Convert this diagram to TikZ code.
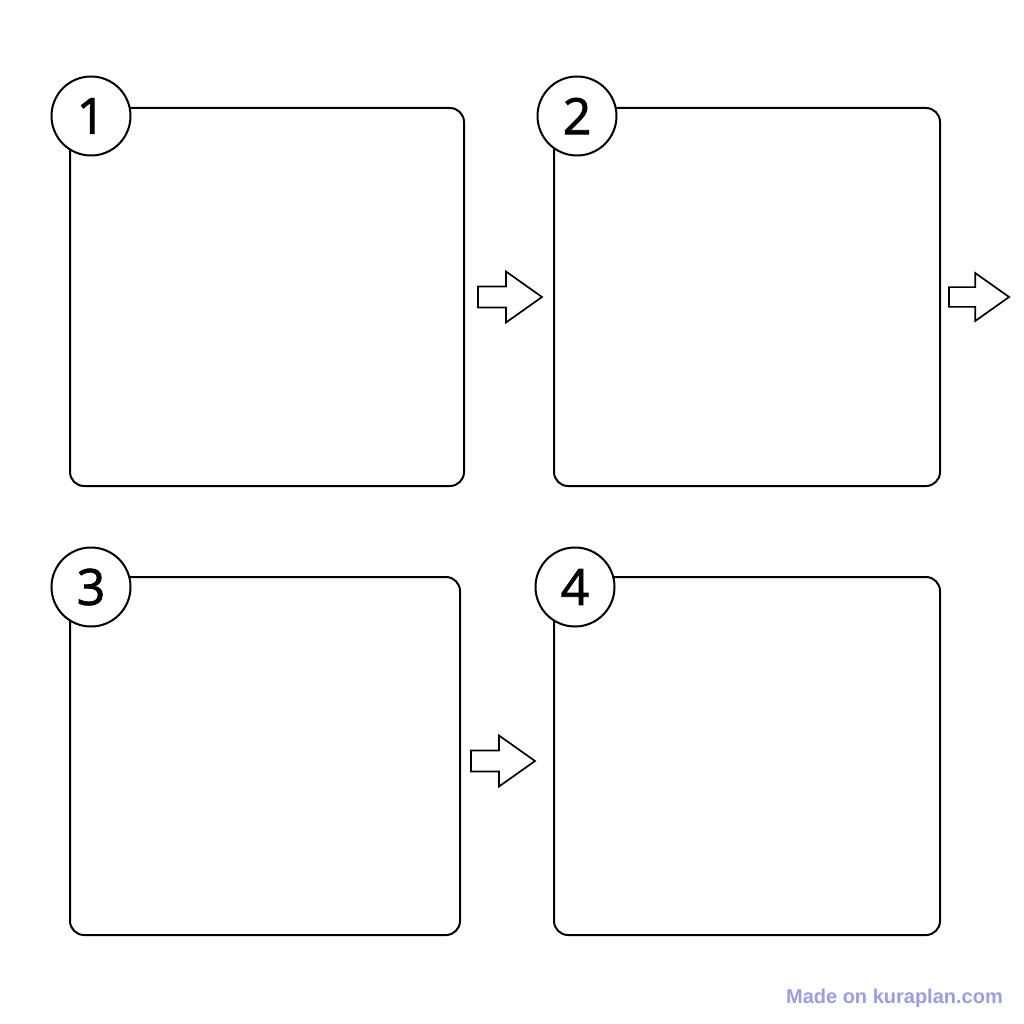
\documentclass[tikz,border=0pt]{standalone}
\usepackage{fontspec}
\setmainfont{Open Sans}
\newfontfamily\numfont{Open Sans}[FakeBold=1.6]
\newfontfamily\markfont{Liberation Sans}
\usetikzlibrary{positioning}
\definecolor{markblue}{RGB}{155,155,240}

\begin{document}
\begin{tikzpicture}[
			x=1pt, y=-1pt,
			panel/.style={rectangle, draw, line width=2pt, rounded corners=14pt, inner sep=0pt},
			num/.style={circle, draw, fill=white, line width=2pt, minimum size=79pt, inner sep=0pt, font=\numfont\fontsize{50}{50}\selectfont},
			steparrow/.pic={\draw[line width=1.7pt, line join=miter, fill=white] (-32,-10.5)--(-4,-10.5)--(-4,-25.5)--(32,0)--(-4,25.5)--(-4,10.5)--(-32,10.5)--cycle;},
			]
			\useasboundingbox (0,0) rectangle (1024,1024);
			\fill[white] (0,0) rectangle (1024,1024);
			\node[panel, minimum width=394pt, minimum height=378pt] (p1) at (267,297) {};
			\node[panel, minimum width=386pt, minimum height=378pt] (p2) at (747,297) {};
			\node[panel, minimum width=390pt, minimum height=358pt] (p3) at (265,756) {};
			\node[panel, minimum width=386pt, minimum height=358pt] (p4) at (747,756) {};
			
			\node[num] (n1) at (91,116) {1};
			\node[num] (n2) at (577,116) {2};
			\node[num] (n3) at (91,587) {3};
			\node[num] (n4) at (575,587) {4};
			
			\pic (a1) at (510,297) {steparrow};
			\pic[scale=0.94] (a2) at (979,297) {steparrow};
			\pic (a3) at (503,761) {steparrow};
			
			\node[anchor=east, inner sep=0pt, text=markblue, font=\markfont\bfseries\fontsize{20}{20}\selectfont] (mark) at (1003,998) {Made on kuraplan.com};
			\end{tikzpicture}
\end{document}
